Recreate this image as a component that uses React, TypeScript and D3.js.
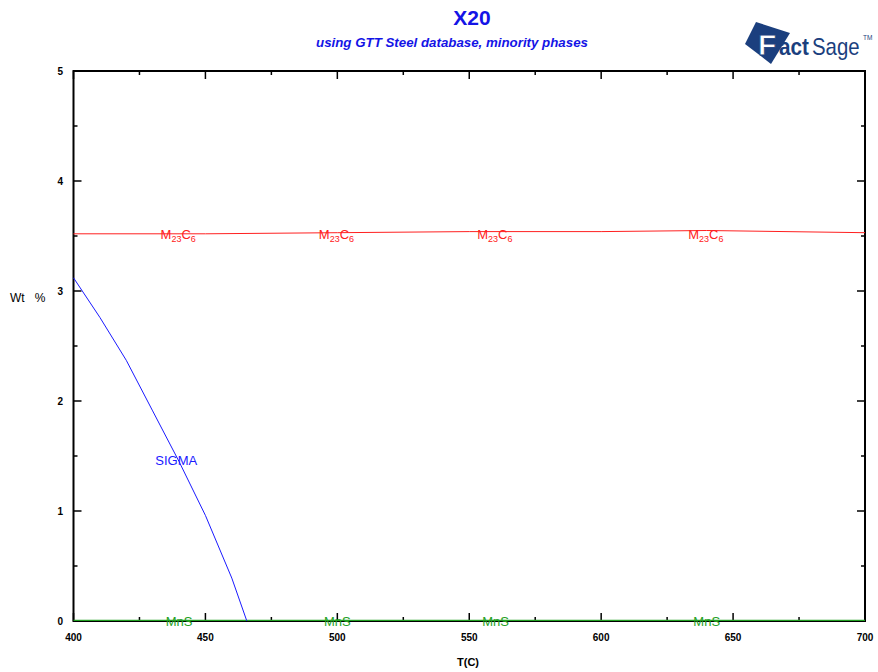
import React, { useEffect, useRef } from 'react';
import * as d3 from 'd3';

const xTicks = [400, 450, 500, 550, 600, 650, 700];
const yTicks = [0, 1, 2, 3, 4, 5];

const m23c6T = [400, 450, 500, 550, 600, 640, 700];
const m23c6W = [3.52, 3.52, 3.53, 3.54, 3.54, 3.55, 3.53];

const sigmaT = [400, 410, 420, 430, 440, 450, 460, 465.7];
const sigmaW = [3.12, 2.76, 2.37, 1.91, 1.45, 0.96, 0.39, 0];

const mnsT = [400, 700];
const mnsW = [0.005, 0.005];

const m23c6LabelT = [433, 493, 553, 633];
const mnsLabelT = [440, 500, 560, 640];
const sigmaLabel = { t: 431, w: 1.4 };

const App = () => {
  const ref = useRef<SVGSVGElement>(null);

  useEffect(() => {
    const svg = d3.select(ref.current);
    svg.selectAll('*').remove();

    const x = d3.scaleLinear().domain([400, 700]).range([73.5, 865]);
    const y = d3.scaleLinear().domain([0, 5]).range([621, 71]);
    const font = 'Liberation Sans, Arial, sans-serif';

    // title
    svg.append('text').attr('x', 472).attr('y', 25).attr('text-anchor', 'middle')
      .attr('font-family', font).attr('font-weight', 'bold').attr('font-size', 21)
      .attr('fill', '#1414e6').text('X20');
    svg.append('text').attr('x', 452).attr('y', 47).attr('text-anchor', 'middle')
      .attr('font-family', font).attr('font-weight', 'bold').attr('font-style', 'italic')
      .attr('font-size', 13.3).attr('fill', '#1414e6').text('using GTT Steel database, minority phases');

    // logo
    const logo = svg.append('g');
    logo.append('polygon').attr('points', '756,22 790,33 771,64 745,44').attr('fill', '#1b3f7e');
    logo.append('text').attr('x', 758).attr('y', 55).attr('font-family', font)
      .attr('font-weight', 'bold').attr('font-size', 30).attr('fill', '#fff')
      .attr('stroke', '#1b3f7e').attr('stroke-width', 0.8).text('F');
    logo.append('text').attr('transform', 'translate(779,55) scale(0.9,1)').attr('font-family', font)
      .attr('font-weight', 'bold').attr('font-size', 23).attr('fill', '#1b3f7e').text('act');
    logo.append('text').attr('transform', 'translate(812,55) scale(0.85,1)').attr('font-family', font)
      .attr('font-size', 24).attr('fill', '#1b3f7e').text('Sage');
    logo.append('text').attr('x', 863).attr('y', 40).attr('font-family', font)
      .attr('font-size', 6.5).attr('fill', '#1b3f7e').text('TM');

    // frame
    const g = svg.append('g');
    g.append('rect').attr('x', x(400)).attr('y', y(5)).attr('width', x(700) - x(400))
      .attr('height', y(0) - y(5)).attr('fill', 'none').attr('stroke', '#000').attr('stroke-width', 2);

    // ticks (inward, all sides)
    const xMinor = d3.range(425, 700, 50);
    const yMinor = d3.range(0.5, 5, 1);
    xTicks.forEach(t => {
      g.append('line').attr('x1', x(t)).attr('x2', x(t)).attr('y1', y(0)).attr('y2', y(0) - 8).attr('stroke', '#000').attr('stroke-width', 1.5);
      g.append('line').attr('x1', x(t)).attr('x2', x(t)).attr('y1', y(5)).attr('y2', y(5) + 8).attr('stroke', '#000').attr('stroke-width', 1.5);
    });
    xMinor.forEach(t => {
      g.append('line').attr('x1', x(t)).attr('x2', x(t)).attr('y1', y(0)).attr('y2', y(0) - 4).attr('stroke', '#000').attr('stroke-width', 1.5);
      g.append('line').attr('x1', x(t)).attr('x2', x(t)).attr('y1', y(5)).attr('y2', y(5) + 4).attr('stroke', '#000').attr('stroke-width', 1.5);
    });
    yTicks.forEach(t => {
      g.append('line').attr('x1', x(400)).attr('x2', x(400) + 8).attr('y1', y(t)).attr('y2', y(t)).attr('stroke', '#000').attr('stroke-width', 1.5);
      g.append('line').attr('x1', x(700)).attr('x2', x(700) - 8).attr('y1', y(t)).attr('y2', y(t)).attr('stroke', '#000').attr('stroke-width', 1.5);
    });
    yMinor.forEach(t => {
      g.append('line').attr('x1', x(400)).attr('x2', x(400) + 4).attr('y1', y(t)).attr('y2', y(t)).attr('stroke', '#000').attr('stroke-width', 1.5);
      g.append('line').attr('x1', x(700)).attr('x2', x(700) - 4).attr('y1', y(t)).attr('y2', y(t)).attr('stroke', '#000').attr('stroke-width', 1.5);
    });

    // tick labels
    g.selectAll('.xl').data(xTicks).enter().append('text')
      .attr('x', d => x(d)).attr('y', 641).attr('text-anchor', 'middle')
      .attr('font-family', font).attr('font-weight', 'bold').attr('font-size', 10).text(d => d);
    g.selectAll('.yl').data(yTicks).enter().append('text')
      .attr('x', 63).attr('y', d => y(d) + 4).attr('text-anchor', 'end')
      .attr('font-family', font).attr('font-weight', 'bold').attr('font-size', 10).text(d => d);

    // axis titles
    svg.append('text').attr('x', 10).attr('y', 302).attr('font-family', font)
      .attr('font-size', 12).style('white-space', 'pre').text('Wt   %');
    svg.append('text').attr('x', 468).attr('y', 666).attr('text-anchor', 'middle')
      .attr('font-family', font).attr('font-weight', 'bold').attr('font-size', 11).text('T(C)');

    const line = d3.line<[number, number]>().x(d => x(d[0])).y(d => y(d[1]));
    const zip = (a: number[], b: number[]) => a.map((v, i) => [v, b[i]] as [number, number]);

    g.append('path').attr('d', line(zip(mnsT, mnsW))).attr('fill', 'none').attr('stroke', '#22a022').attr('stroke-width', 1.2);
    g.append('path').attr('d', line(zip(m23c6T, m23c6W))).attr('fill', 'none').attr('stroke', '#ff2020').attr('stroke-width', 1);
    g.append('path').attr('d', line(zip(sigmaT, sigmaW))).attr('fill', 'none').attr('stroke', '#1a1aff').attr('stroke-width', 1);

    // labels
    m23c6LabelT.forEach(t => {
      const tx = g.append('text').attr('x', x(t)).attr('y', y(3.52) + 5)
        .attr('font-family', font).attr('font-size', 13).attr('fill', '#ff2020');
      tx.append('tspan').text('M');
      tx.append('tspan').attr('font-size', 9).attr('dy', 3).text('23');
      tx.append('tspan').attr('dy', -3).text('C');
      tx.append('tspan').attr('font-size', 9).attr('dy', 3).text('6');
    });
    mnsLabelT.forEach(t => {
      g.append('text').attr('x', x(t)).attr('y', y(0) + 5).attr('text-anchor', 'middle')
        .attr('font-family', font).attr('font-size', 13).attr('fill', '#22a022').text('MnS');
    });
    g.append('text').attr('x', x(sigmaLabel.t)).attr('y', y(sigmaLabel.w) - 2)
      .attr('font-family', font).attr('font-size', 13).attr('fill', '#1a1aff').text('SIGMA');
  }, []);

  return (
    <svg ref={ref} width={878} height={672} style={{ position: 'absolute', left: 0, top: 0, background: '#fff' }} />
  );
};

export default App;
